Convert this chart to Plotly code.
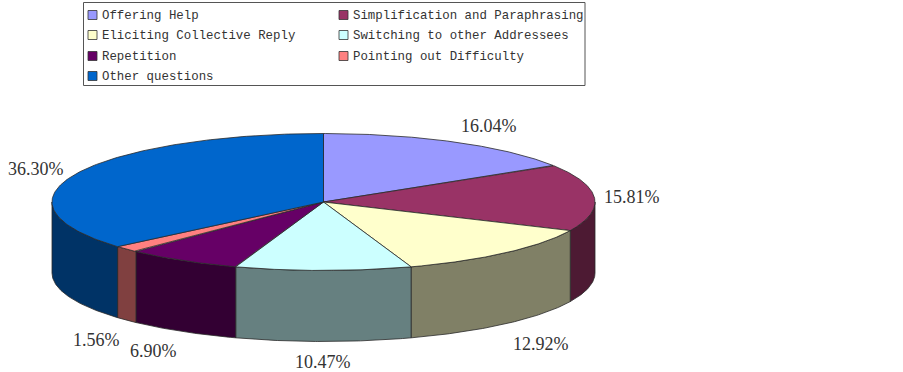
import numpy as np
import plotly.graph_objects as go

categories = ["Offering Help", "Simplification and Paraphrasing", "Eliciting Collective Reply",
              "Switching to other Addressees", "Repetition", "Pointing out Difficulty", "Other questions"]
shares = [16.04, 15.81, 12.92, 10.47, 6.90, 1.56, 36.30]
top_colors = ["#9999FF", "#993366", "#FFFFCC", "#CCFFFF", "#660066", "#FF8080", "#0066CC"]
side_colors = ["#4D4D80", "#4D1A33", "#808066", "#668080", "#330033", "#804040", "#003366"]

W, H = 903, 372
CX, CY, RX, RY, DEPTH = 323.5, 202, 271.5, 68.5, 71
EDGE = "#2a2a2a"
TEXT = "#333333"
LABEL_POS = [(489, 126), (632, 197), (541, 344), (323, 362), (153, 351), (96, 340), (36, 169)]
LEGEND_POS = [(88, 15), (339, 15), (88, 35), (339, 35), (88, 56), (339, 56), (88, 76)]


def ex(t):
    return CX + RX * np.sin(t)


def ey(t):
    return CY - RY * np.cos(t)


fig = go.Figure()
edges = np.radians(np.cumsum([0] + shares) * 3.6)

# side walls: only the part of each slice on the front half of the disc
for i in range(len(shares)):
    a, b = max(edges[i], np.pi / 2), min(edges[i + 1], 3 * np.pi / 2)
    if b <= a:
        continue
    t = np.linspace(a, b, 80)
    fig.add_trace(go.Scatter(
        x=np.r_[ex(t), ex(t[::-1]), ex(t[0])],
        y=np.r_[ey(t), ey(t[::-1]) + DEPTH, ey(t[0])],
        mode="lines", fill="toself", fillcolor=side_colors[i],
        line=dict(color=EDGE, width=0.8), hoverinfo="skip", showlegend=False))

# top faces
for i in range(len(shares)):
    t = np.linspace(edges[i], edges[i + 1], 160)
    fig.add_trace(go.Scatter(
        x=np.r_[CX, ex(t), CX], y=np.r_[CY, ey(t), CY],
        mode="lines", fill="toself", fillcolor=top_colors[i],
        line=dict(color=EDGE, width=0.8), hoverinfo="skip", showlegend=False))

# percentage labels
for v, (lx, ly) in zip(shares, LABEL_POS):
    fig.add_annotation(x=lx, y=ly, xref="x", yref="y", text=f"{v:.2f}%", showarrow=False,
                       font=dict(family="Liberation Serif", size=18, color=TEXT))

# legend box
fig.add_shape(type="rect", x0=83.5, x1=585, y0=2.5, y1=85.5, xref="x", yref="y",
              line=dict(color="#555555", width=1), fillcolor="white")
for name, col, (sx, sy) in zip(categories, top_colors, LEGEND_POS):
    fig.add_shape(type="rect", x0=sx, x1=sx + 9, y0=sy - 4.5, y1=sy + 4.5, xref="x", yref="y",
                  line=dict(color="#333333", width=0.8), fillcolor=col)
    fig.add_annotation(x=sx + 12, y=sy + 1, xref="x", yref="y", text=name, showarrow=False,
                       xanchor="left", font=dict(family="Liberation Mono", size=12.4, color=TEXT))

fig.update_layout(
    width=W, height=H, margin=dict(l=0, r=0, t=0, b=0), autosize=False,
    paper_bgcolor="white", plot_bgcolor="white", showlegend=False,
    xaxis=dict(range=[0, W], visible=False, fixedrange=True),
    yaxis=dict(range=[H, 0], visible=False, fixedrange=True),
)
fig.write_html("out.html", config={"displayModeBar": False},
               post_script="document.body.style.margin='0';document.body.style.overflow='hidden';")
